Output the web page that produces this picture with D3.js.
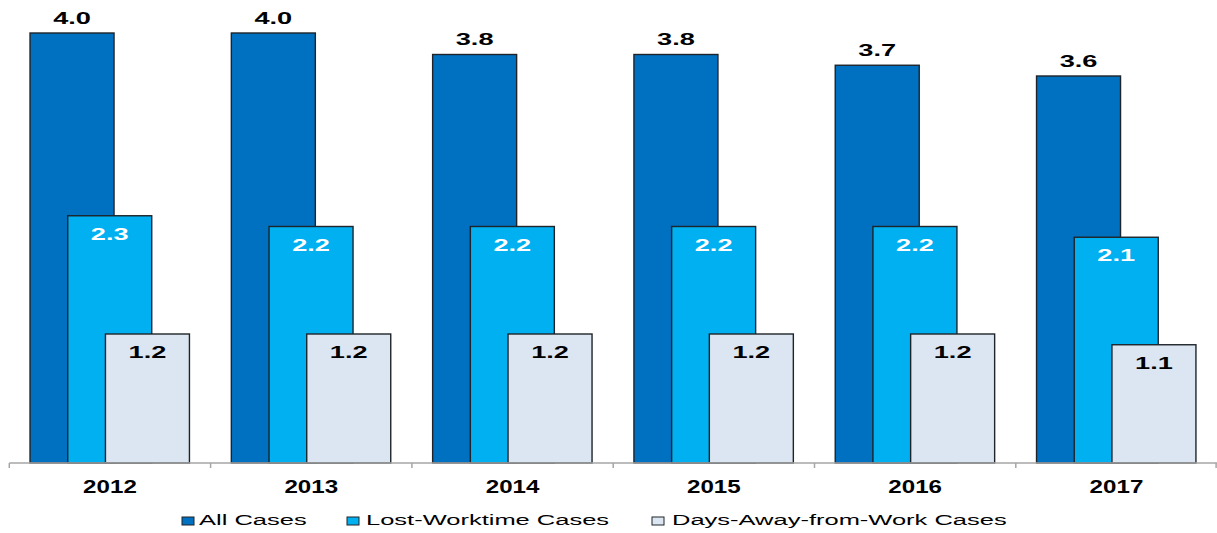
<!DOCTYPE html>
<html>
<head>
<meta charset="utf-8">
<script src="https://cdn.jsdelivr.net/npm/d3@7"></script>
<style>
  html, body { margin: 0; padding: 0; background: #ffffff; }
  svg { display: block; font-family: "Liberation Sans", Arial, sans-serif; }
</style>
</head>
<body>
<svg id="chart" width="1217" height="533"></svg>
<script>
const years = ["2012", "2013", "2014", "2015", "2016", "2017"];
const allCases = [4.0, 4.0, 3.8, 3.8, 3.7, 3.6];
const lostWorktime = [2.3, 2.2, 2.2, 2.2, 2.2, 2.1];
const daysAway = [1.2, 1.2, 1.2, 1.2, 1.2, 1.1];
const seriesNames = ["All Cases", "Lost-Worktime Cases", "Days-Away-from-Work Cases"];

const colors = ["#0070C0", "#00B0F0", "#DCE6F2"];
const labelColors = ["#000000", "#ffffff", "#000000"];
const stretch = 1.7;

const svg = d3.select("#chart");
const W = 1217, H = 533;
const baseY = 463;

const x = d3.scaleBand().domain(years).range([9.3, 1217.1]).paddingInner(0).paddingOuter(0);
const y = d3.scaleLinear().domain([0, 4]).range([baseY, 33]);

// sub-position within group (fractions of band)
const sub = d3.scaleLinear().domain([0, 1]).range([0.103, 0.2903]);
const barW = x.bandwidth() * 0.4173;

const series = [allCases, lostWorktime, daysAway];

series.forEach((vals, si) => {
  const g = svg.append("g");
  const data = years.map((yr, i) => ({ yr, v: vals[i] }));
  g.selectAll("rect").data(data).enter().append("rect")
    .attr("x", d => x(d.yr) + x.bandwidth() * (0.103 + si * 0.1873))
    .attr("y", d => y(d.v))
    .attr("width", barW)
    .attr("height", d => baseY - y(d.v))
    .attr("fill", colors[si])
    .attr("stroke", "#1e2429")
    .attr("stroke-width", 1.4);

  g.selectAll("text").data(data).enter().append("text")
    .attr("transform", d => {
      const cx = x(d.yr) + x.bandwidth() * (0.103 + si * 0.1873) + barW / 2;
      const ty = si === 0 ? y(d.v) - 9.5 : y(d.v) + 24;
      return `translate(${cx},${ty}) scale(${stretch},1)`;
    })
    .attr("text-anchor", "middle")
    .attr("font-size", 16)
    .attr("font-weight", "bold")
    .attr("fill", labelColors[si])
    .text(d => d.v.toFixed(1));
});

// axis
const axisG = svg.append("g");
axisG.append("line")
  .attr("x1", x.range()[0]).attr("x2", W)
  .attr("y1", baseY).attr("y2", baseY)
  .attr("stroke", "#a6a6a6").attr("stroke-width", 1.5);
const edges = years.map(yr => x(yr)).concat([x.range()[1] - 1]);
axisG.selectAll("line.tick").data(edges).enter().append("line")
  .attr("class", "tick")
  .attr("x1", d => d).attr("x2", d => d)
  .attr("y1", baseY).attr("y2", baseY + 5)
  .attr("stroke", "#a6a6a6").attr("stroke-width", 1.5);
axisG.selectAll("text").data(years).enter().append("text")
  .attr("transform", d => `translate(${x(d) + x.bandwidth() / 2},${492.5}) scale(1.38,1)`)
  .attr("text-anchor", "middle")
  .attr("font-size", 17.5)
  .attr("font-weight", "bold")
  .attr("fill", "#000")
  .text(d => d);

// legend
const legendMarkerX = [182, 347, 652];
const legendTextX = [199, 366, 672];
const lg = svg.append("g");
seriesNames.forEach((name, i) => {
  lg.append("rect")
    .attr("x", legendMarkerX[i]).attr("y", 517)
    .attr("width", 12).attr("height", 8)
    .attr("fill", colors[i])
    .attr("stroke", "#1e2429").attr("stroke-width", 1);
  lg.append("text")
    .attr("transform", `translate(${legendTextX[i]},525.3) scale(${stretch},1)`)
    .attr("font-size", 15)
    .attr("fill", "#000")
    .text(name);
});
</script>
</body>
</html>
